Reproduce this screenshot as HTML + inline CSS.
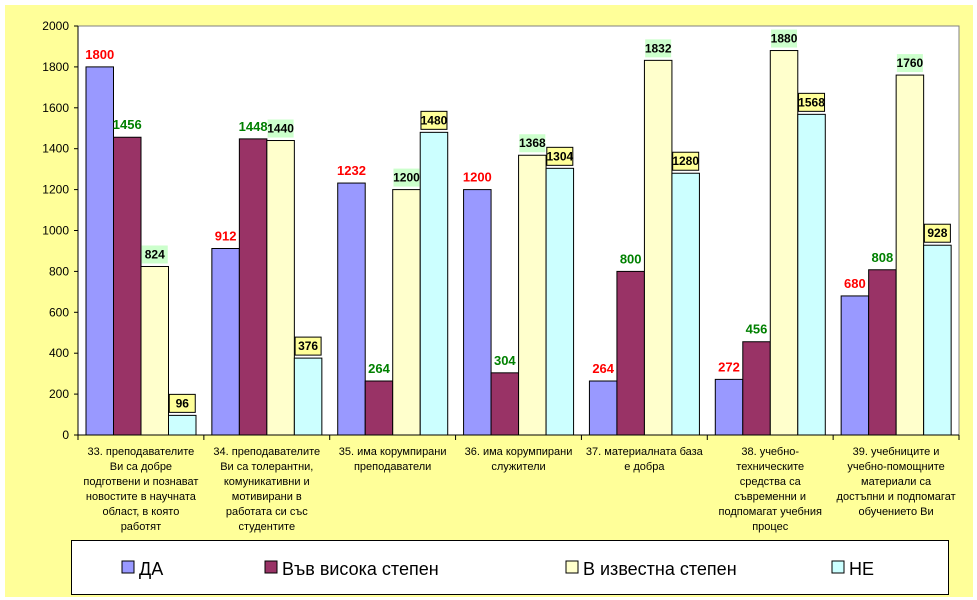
<!DOCTYPE html>
<html><head><meta charset="utf-8"><style>
body{margin:0;width:977px;height:600px;background:#fff;overflow:hidden;font-family:"Liberation Sans",sans-serif}
#bg{position:absolute;left:5px;top:5px;width:968px;height:592px;background:#FFFF99}
svg{position:absolute;left:0;top:0}
</style></head><body>
<div id="bg"></div>
<svg id="chart" width="977" height="600"></svg>
<script>
const categories=[["33. преподавателите","Ви са добре","подготвени и познават","новостите в научната","област, в която","работят"],["34. преподавателите","Ви са толерантни,","комуникативни и","мотивирани в","работата си със","студентите"],["35. има корумпирани","преподаватели"],["36. има корумпирани","служители"],["37. материалната база","е добра"],["38. учебно-","техническите","средства са","съвременни и","подпомагат учебния","процес"],["39. учебниците и","учебно-помощните","материали са","достъпни и подпомагат","обучението Ви"]];
const seriesNames=["ДА","Във висока степен","В известна степен","НЕ"];
const daValues=[1800,912,1232,1200,264,272,680];
const highValues=[1456,1448,264,304,800,456,808];
const someValues=[824,1440,1200,1368,1832,1880,1760];
const noValues=[96,376,1480,1304,1280,1568,928];
const yTicks=[0,200,400,600,800,1000,1200,1400,1600,1800,2000];

const NS="http://www.w3.org/2000/svg";
const svg=document.getElementById('chart');
function mk(t,a,p){const e=document.createElementNS(NS,t);for(const k in a)e.setAttribute(k,a[k]);(p||svg).appendChild(e);return e;}
const X0=78,X1=959,Y0=435,Y1=26,cw=(X1-X0)/7,bw=27.5;
const y=v=>Y0-(v/2000)*(Y0-Y1);
const x=(c,s)=>X0+c*cw+8+s*bw;
const plot=mk('rect',{x:X0,y:Y1,width:X1-X0,height:Y0-Y1,fill:'#fff',stroke:'#808080','stroke-width':1});


const colors=['#9999FF','#993366','#FFFFCC','#CCFFFF'];
const series=[daValues,highValues,someValues,noValues];
const keys=['da','high','some','no'];
series.forEach((vals,s)=>vals.forEach((v,c)=>{
  const r=mk('rect',{x:x(c,s),y:y(v),width:bw,height:Y0-y(v),fill:colors[s],stroke:'#000','stroke-width':1});
  
  
}));
// labels
series.forEach((vals,s)=>vals.forEach((v,c)=>{
  const cx=x(c,s)+bw/2, ty=y(v)-8;
  if(s>=2){
    const b=mk('rect',{x:cx-13,y:ty-13,width:26,height:18,fill:s==2?'#CCFFCC':'#FFFF99',stroke:s==3?'#000':'none','stroke-width':1});
    
    
  }
  const t=mk('text',{x:cx,y:ty,'text-anchor':'middle','font-size':s>=2?12:13,'font-weight':'bold',fill:s==0?'#FF0000':s==1?'#008000':'#000'});
  t.textContent=v;
  
  
}));
// axes
const ax=mk('line',{x1:X0,y1:Y1,x2:X0,y2:Y0,stroke:'#000'});


const xa=mk('line',{x1:X0,y1:Y0,x2:X1,y2:Y0,stroke:'#000'});


yTicks.forEach(v=>{
  mk('line',{x1:X0-4,y1:y(v),x2:X0,y2:y(v),stroke:'#000'});
  const t=mk('text',{x:X0-9,y:y(v)+4,'text-anchor':'end','font-size':12});
  t.textContent=v;
  
  
});
for(let c=0;c<=7;c++)mk('line',{x1:X0+c*cw,y1:Y0,x2:X0+c*cw,y2:Y0+5,stroke:'#000'});
categories.forEach((lines,c)=>{
  const t=mk('text',{'text-anchor':'middle','font-size':11});
  
  
  lines.forEach((l,i)=>{const ts=mk('tspan',{x:X0+c*cw+cw/2,y:455+i*15},t);ts.textContent=l;});
});
// legend
const lg=mk('rect',{x:71.5,y:540.5,width:877,height:54,fill:'#fff',stroke:'#000','stroke-width':1});


const lx=[122,265,566,832];
seriesNames.forEach((n,s)=>{
  const g=mk('g',{});
  
  
  mk('rect',{x:lx[s],y:561,width:12,height:12,fill:colors[s],stroke:'#000'},g);
  const t=mk('text',{x:lx[s]+17,y:575,'font-size':18},g);t.textContent=n;
});
</script>
</body></html>
